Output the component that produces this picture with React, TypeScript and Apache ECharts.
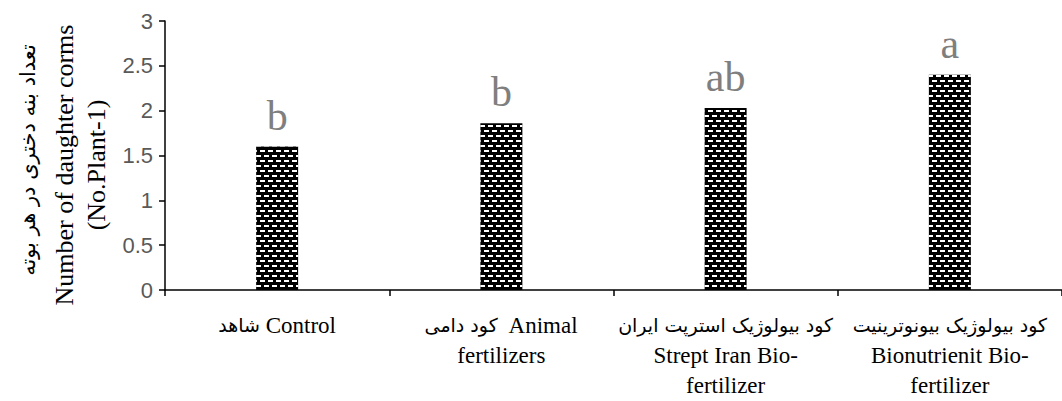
import React, { useEffect, useRef } from "react";
import * as echarts from "echarts";

const categories = [
  "شاهد Control",
  "کود دامی  Animal\nfertilizers",
  "کود بیولوژیک استرپت ایران\nStrept Iran Bio-\nfertilizer",
  "کود بیولوژیک بیونوترینیت\nBionutrienit Bio-\nfertilizer",
];
const values = [1.6, 1.86, 2.03, 2.4];
const letters = ["b", "b", "ab", "a"];
const yTicks = [0, 0.5, 1, 1.5, 2, 2.5, 3];
const yTitleFa = "تعداد بنه دختری در هر بوته";
const yTitleEn1 = "Number of daughter corms";
const yTitleEn2 = "(No.Plant-1)";

const faRun = /[\u0600-\u06FF\u200c]+(?:\s+[\u0600-\u06FF\u200c]+)*/g;

export default function App() {
  const ref = useRef<HTMLDivElement>(null);
  useEffect(() => {
    if (!ref.current) return;
    const chart = echarts.init(ref.current, null, { renderer: "svg" });
    chart.setOption({
      animation: false,
      backgroundColor: "#ffffff",
      grid: { left: 165, top: 21, width: 902, height: 269 },
      xAxis: {
        type: "category",
        data: categories,
        axisLine: { lineStyle: { color: "#000", width: 1.5 } },
        axisTick: { show: true, length: 6, lineStyle: { color: "#000", width: 1.5 } },
        axisLabel: {
          interval: 0,
          margin: 20,
          color: "#000",
          fontFamily: "Liberation Serif",
          fontSize: 23,
          lineHeight: 30,
          align: "center",
          formatter: (v: string) => v.replace(faRun, (m) => `{fa|${m}}`),
          rich: {
            fa: {
              fontFamily: "DejaVu Sans",
              fontSize: 19,
              lineHeight: 30,
              color: "#000",
            },
          },
        },
      },
      yAxis: {
        type: "value",
        min: yTicks[0],
        max: yTicks[yTicks.length - 1],
        interval: 0.5,
        splitLine: { show: false },
        axisLine: { show: true, lineStyle: { color: "#000", width: 1.5 } },
        axisTick: { show: true, length: 6, lineStyle: { color: "#000", width: 1.5 } },
        axisLabel: {
          margin: 12,
          color: "#595959",
          fontFamily: "Liberation Sans",
          fontSize: 22,
        },
      },
      series: [
        {
          type: "bar",
          data: values.map((v, i) => ({ value: v, label: { formatter: letters[i] } })),
          barWidth: 42,
          itemStyle: {
            color: "#000",
            decal: {
              symbol: "rect",
              symbolSize: 1,
              color: "#ffffff",
              dashArrayX: [
                [5, 3],
                [1, 3, 4, 0],
              ],
              dashArrayY: [1.5, 2.5],
              rotation: 0,
            },
          },
          label: {
            show: true,
            position: "top",
            distance: 10,
            color: "#7f7f7f",
            fontFamily: "Liberation Serif",
            fontSize: 42,
          },
        },
      ],
      graphic: [
        {
          type: "text",
          x: 28,
          y: 160,
          rotation: Math.PI / 2,
          style: {
            text: yTitleFa,
            font: "21px 'DejaVu Sans'",
            fill: "#000",
            textAlign: "center",
            textVerticalAlign: "middle",
          },
        },
        {
          type: "text",
          x: 64,
          y: 165,
          rotation: Math.PI / 2,
          style: {
            text: yTitleEn1,
            font: "26px 'Liberation Serif'",
            fill: "#000",
            textAlign: "center",
            textVerticalAlign: "middle",
          },
        },
        {
          type: "text",
          x: 96,
          y: 165,
          rotation: Math.PI / 2,
          style: {
            text: yTitleEn2,
            font: "26px 'Liberation Serif'",
            fill: "#000",
            textAlign: "center",
            textVerticalAlign: "middle",
          },
        },
      ],
    });
    return () => chart.dispose();
  }, []);
  return (
    <div
      ref={ref}
      style={{ position: "absolute", left: 0, top: 0, width: 1062, height: 401 }}
    />
  );
}
